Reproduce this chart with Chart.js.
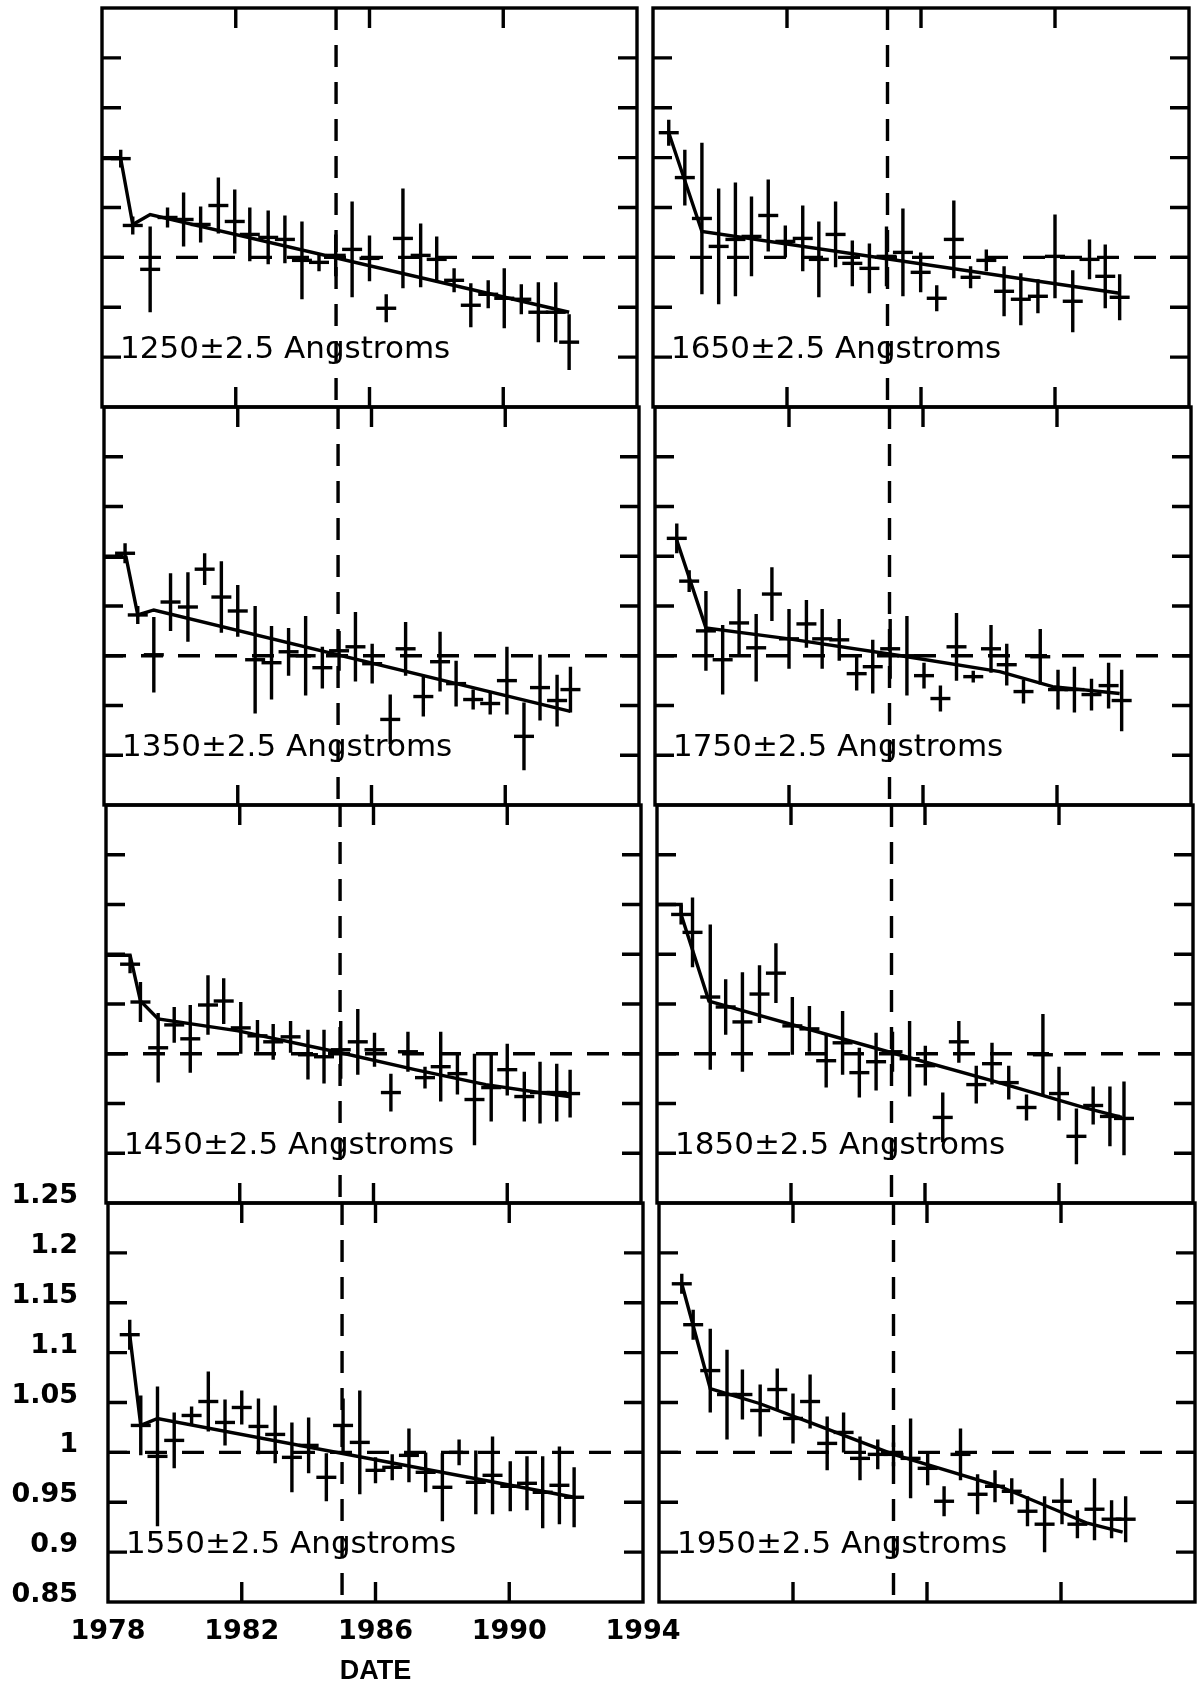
<!DOCTYPE html>
<html>
<head>
<meta charset="utf-8">
<title>Normalized response vs date</title>
<script src="https://cdn.jsdelivr.net/npm/chart.js@4.4.1/dist/chart.umd.min.js"></script>
<style>
  html, body { margin: 0; padding: 0; background: #fff; }
  #fig { position: relative; width: 1199px; height: 1689px; overflow: hidden; background: #fff; }
  #fig canvas { position: absolute; }
</style>
</head>
<body>
<div id="fig"></div>
<script>
// ---- axis ticks and reference lines ----
const xTickYears  = [1978, 1982, 1986, 1990, 1994];
const xTickLabels = ['1978', '1982', '1986', '1990', '1994'];
const yTickValues = [1.25, 1.2, 1.15, 1.1, 1.05, 1, 0.95, 0.9, 0.85];
const yTickLabels = ['1.25', '1.2', '1.15', '1.1', '1.05', '1', '0.95', '0.9', '0.85'];
const refYear  = 1985;
const refRatio = 1.0;
const bandLabels = ['1250±2.5 Angstroms', '1350±2.5 Angstroms', '1450±2.5 Angstroms', '1550±2.5 Angstroms',
                    '1650±2.5 Angstroms', '1750±2.5 Angstroms', '1850±2.5 Angstroms', '1950±2.5 Angstroms'];

// ---- 1250 A ----
const years1250 = [1978.56,1978.92,1979.44,1979.96,1980.44,1980.95,1981.48,1981.97,1982.42,1982.97,1983.47,1983.98,1984.49,1984.99,1985.48,1986.00,1986.50,1987.00,1987.53,1988.01,1988.53,1989.03,1989.55,1990.03,1990.54,1991.05,1991.57,1991.97];
const ratio1250 = [1.099,1.032,0.988,1.040,1.038,1.033,1.052,1.036,1.023,1.020,1.018,0.997,0.995,1.002,1.008,0.999,0.949,1.019,1.002,0.998,0.977,0.952,0.963,0.959,0.958,0.945,0.945,0.915];
const err1250   = [0.009,0.009,0.043,0.010,0.027,0.018,0.028,0.032,0.027,0.027,0.024,0.039,0.009,0.021,0.048,0.023,0.014,0.050,0.032,0.023,0.012,0.022,0.014,0.030,0.015,0.030,0.030,0.028];
const fitYears1250 = [1978.0,1978.56,1978.92,1979.44,1991.97];
const fit1250      = [1.099,1.099,1.033,1.043,0.945];

// ---- 1350 A ----
const years1350 = [1978.63,1979.01,1979.49,1979.99,1980.51,1981.01,1981.51,1982.00,1982.52,1983.01,1983.52,1984.03,1984.53,1985.03,1985.52,1986.02,1986.56,1987.02,1987.55,1988.05,1988.53,1989.04,1989.55,1990.05,1990.56,1991.04,1991.55,1991.95];
const ratio1350 = [1.103,1.041,1.001,1.054,1.049,1.087,1.059,1.045,0.996,0.993,1.004,1.000,0.988,1.005,1.009,0.992,0.936,1.007,0.959,0.994,0.972,0.956,0.952,0.975,0.919,0.968,0.955,0.966];
const err1350   = [0.010,0.009,0.038,0.029,0.035,0.016,0.036,0.026,0.054,0.037,0.024,0.040,0.021,0.020,0.035,0.020,0.025,0.027,0.020,0.030,0.023,0.010,0.011,0.034,0.034,0.033,0.026,0.023];
const fitYears1350 = [1978.0,1978.66,1979.01,1979.49,1991.95];
const fit1350      = [1.099,1.099,1.041,1.046,0.944];

// ---- 1450 A ----
const years1450 = [1978.72,1979.03,1979.56,1980.04,1980.52,1981.05,1981.52,1982.03,1982.53,1983.00,1983.52,1984.04,1984.52,1985.02,1985.53,1986.03,1986.52,1987.03,1987.54,1988.01,1988.51,1989.02,1989.52,1990.00,1990.51,1990.98,1991.48,1991.88];
const ratio1450 = [1.090,1.052,1.006,1.029,1.015,1.049,1.053,1.026,1.018,1.012,1.017,0.999,0.997,1.004,1.012,1.004,0.961,1.002,0.976,0.987,0.980,0.954,0.966,0.984,0.957,0.961,0.961,0.960];
const err1450   = [0.009,0.020,0.035,0.018,0.034,0.030,0.023,0.026,0.016,0.018,0.016,0.025,0.027,0.029,0.033,0.017,0.019,0.020,0.011,0.035,0.021,0.046,0.034,0.026,0.025,0.031,0.029,0.024];
const fitYears1450 = [1978.0,1978.72,1979.03,1979.56,1981.95,1985.02,1987.24,1989.36,1990.95,1991.85];
const fit1450      = [1.099,1.099,1.053,1.035,1.023,1.001,0.984,0.969,0.961,0.957];

// ---- 1550 A ----
const years1550 = [1978.65,1978.98,1979.48,1979.98,1980.50,1981.00,1981.50,1982.00,1982.50,1983.00,1983.50,1984.00,1984.53,1985.03,1985.53,1986.00,1986.50,1987.00,1987.50,1988.00,1988.50,1989.00,1989.50,1990.03,1990.53,1991.00,1991.50,1991.94];
const ratio1550 = [1.118,1.027,0.996,1.012,1.037,1.051,1.030,1.045,1.026,1.018,0.995,1.007,0.975,1.027,1.010,0.982,0.985,0.997,0.980,0.965,1.000,0.970,0.977,0.966,0.969,0.960,0.967,0.955];
const err1550   = [0.015,0.030,0.070,0.028,0.009,0.030,0.023,0.017,0.028,0.029,0.035,0.028,0.024,0.027,0.052,0.013,0.013,0.027,0.020,0.034,0.013,0.032,0.039,0.025,0.027,0.036,0.039,0.030];
const fitYears1550 = [1978.65,1978.98,1979.48,1991.94];
const fit1550      = [1.118,1.027,1.034,0.955];

// ---- 1650 A ----
const years1650 = [1978.47,1978.95,1979.46,1979.96,1980.46,1980.94,1981.44,1981.95,1982.47,1982.95,1983.45,1983.95,1984.46,1984.97,1985.46,1985.99,1986.47,1986.98,1987.48,1987.95,1988.48,1988.98,1989.49,1990.00,1990.53,1991.03,1991.50,1991.93];
const ratio1650 = [1.125,1.080,1.039,1.011,1.018,1.021,1.042,1.016,1.019,0.998,1.023,0.994,0.989,1.001,1.005,0.985,0.959,1.018,0.980,0.997,0.966,0.958,0.961,1.001,0.956,0.998,0.981,0.960];
const err1650   = [0.013,0.028,0.076,0.058,0.057,0.040,0.036,0.016,0.033,0.038,0.033,0.023,0.025,0.030,0.044,0.020,0.013,0.039,0.011,0.011,0.025,0.026,0.017,0.042,0.031,0.020,0.032,0.023];
const fitYears1650 = [1978.47,1979.46,1991.93];
const fit1650      = [1.125,1.026,0.964];

// ---- 1750 A ----
const years1750 = [1978.65,1979.02,1979.52,1980.02,1980.51,1981.02,1981.49,1982.00,1982.52,1982.99,1983.50,1984.02,1984.50,1985.02,1985.52,1986.03,1986.52,1987.00,1987.50,1988.03,1988.50,1989.00,1989.50,1990.03,1990.52,1991.03,1991.54,1991.93];
const ratio1750 = [1.118,1.075,1.025,0.996,1.033,1.008,1.062,1.017,1.032,1.017,1.016,0.982,0.989,1.007,1.000,0.980,0.957,1.009,0.979,1.007,0.991,0.964,0.999,0.966,0.966,0.961,0.970,0.955];
const err1750   = [0.015,0.011,0.040,0.035,0.034,0.034,0.027,0.030,0.024,0.030,0.021,0.017,0.027,0.030,0.040,0.013,0.013,0.034,0.006,0.024,0.021,0.012,0.028,0.020,0.023,0.016,0.023,0.031];
const fitYears1750 = [1978.65,1979.52,1982.0,1985.34,1988.29,1989.87,1991.87];
const fit1750      = [1.116,1.028,1.017,1.000,0.984,0.969,0.962];

// ---- 1850 A ----
const years1850 = [1978.72,1979.06,1979.59,1980.05,1980.55,1981.06,1981.55,1982.04,1982.55,1983.05,1983.54,1984.04,1984.54,1985.03,1985.54,1986.01,1986.53,1987.01,1987.53,1988.00,1988.50,1989.03,1989.52,1990.00,1990.52,1991.02,1991.52,1991.94];
const ratio1850 = [1.140,1.122,1.057,1.047,1.032,1.060,1.081,1.028,1.025,0.993,1.011,0.981,0.992,1.002,0.995,0.988,0.936,1.012,0.969,0.990,0.971,0.946,0.999,0.960,0.917,0.948,0.937,0.935];
const err1850   = [0.010,0.035,0.073,0.028,0.050,0.029,0.030,0.029,0.023,0.027,0.032,0.025,0.029,0.020,0.038,0.020,0.025,0.021,0.019,0.021,0.017,0.013,0.041,0.027,0.028,0.019,0.030,0.037];
const fitYears1850 = [1978.0,1978.72,1978.72,1979.55,1985.01,1988.21,1990.73,1991.88];
const fit1850      = [1.150,1.150,1.140,1.053,1.001,0.971,0.946,0.936];

// ---- 1950 A ----
const years1950 = [1978.68,1979.02,1979.53,1980.03,1980.49,1981.02,1981.53,1982.00,1982.51,1983.02,1983.51,1984.00,1984.53,1985.00,1985.51,1986.02,1986.51,1987.00,1987.51,1988.03,1988.53,1989.00,1989.51,1990.03,1990.49,1991.00,1991.51,1991.93];
const ratio1950 = [1.169,1.128,1.082,1.058,1.058,1.042,1.063,1.034,1.051,1.009,1.020,0.994,0.998,0.998,0.994,0.984,0.951,0.998,0.958,0.966,0.961,0.941,0.928,0.951,0.928,0.943,0.933,0.933];
const err1950   = [0.010,0.015,0.042,0.045,0.025,0.026,0.021,0.025,0.027,0.027,0.020,0.022,0.015,0.012,0.040,0.017,0.015,0.026,0.020,0.016,0.013,0.015,0.028,0.023,0.014,0.031,0.019,0.023];
const fitYears1950 = [1978.68,1979.53,1981.0,1982.58,1985.0,1988.16,1990.79,1991.84];
const fit1950      = [1.169,1.064,1.049,1.029,0.998,0.966,0.929,0.920];

// Panels in column order: left column 1250..1550, right column 1650..1950
const panels = [
  { years: years1250, values: ratio1250, errors: err1250, fitYears: fitYears1250, fitValues: fit1250 },
  { years: years1350, values: ratio1350, errors: err1350, fitYears: fitYears1350, fitValues: fit1350 },
  { years: years1450, values: ratio1450, errors: err1450, fitYears: fitYears1450, fitValues: fit1450 },
  { years: years1550, values: ratio1550, errors: err1550, fitYears: fitYears1550, fitValues: fit1550 },
  { years: years1650, values: ratio1650, errors: err1650, fitYears: fitYears1650, fitValues: fit1650 },
  { years: years1750, values: ratio1750, errors: err1750, fitYears: fitYears1750, fitValues: fit1750 },
  { years: years1850, values: ratio1850, errors: err1850, fitYears: fitYears1850, fitValues: fit1850 },
  { years: years1950, values: ratio1950, errors: err1950, fitYears: fitYears1950, fitValues: fit1950 }
];

// ---- page layout (pixels) ----
const colLeft   = [108, 659];
const colRight  = [643, 1195];
const rowTop    = [8, 407, 805, 1203];
const rowBottom = [407, 805, 1203, 1602];
const rowShift  = [-6, -4, -2, 0];
const MARGIN = 6;
const LW = 3.4;

// axis box sizes for the labelled (bottom-left) panel
const Y_AXIS_W = 100, X_AXIS_H = 86, AX_PAD = { left: 8, top: 60, right: 60, bottom: 0 };

const tickFont = { family: 'DejaVu Sans', size: 27, weight: 'bold' };

// Frame, inward ticks, error bars, dashed reference lines and band label
function panelDecor(p, label) {
  return {
    id: 'panelDecor',
    afterDatasetsDraw(chart) {
      const { ctx, chartArea: a, scales: { x, y } } = chart;
      ctx.save();
      ctx.strokeStyle = '#000';
      ctx.lineWidth = LW;
      ctx.lineCap = 'butt';

      // vertical error bars
      ctx.beginPath();
      p.years.forEach((yr, i) => {
        const px = x.getPixelForValue(yr);
        ctx.moveTo(px, y.getPixelForValue(p.values[i] + p.errors[i]));
        ctx.lineTo(px, y.getPixelForValue(p.values[i] - p.errors[i]));
      });
      ctx.stroke();

      // frame
      ctx.strokeRect(a.left, a.top, a.right - a.left, a.bottom - a.top);

      // inward tick marks
      ctx.beginPath();
      yTickValues.slice(1, -1).forEach(v => {
        const py = y.getPixelForValue(v);
        ctx.moveTo(a.left, py);  ctx.lineTo(a.left + 19, py);
        ctx.moveTo(a.right, py); ctx.lineTo(a.right - 19, py);
      });
      xTickYears.slice(1, -1).forEach(v => {
        const px = x.getPixelForValue(v);
        ctx.moveTo(px, a.top);    ctx.lineTo(px, a.top + 20);
        ctx.moveTo(px, a.bottom); ctx.lineTo(px, a.bottom - 20);
      });
      ctx.stroke();

      // dashed reference lines
      ctx.setLineDash([22, 15]);
      ctx.beginPath();
      const rx = x.getPixelForValue(refYear);
      ctx.moveTo(rx, a.top); ctx.lineTo(rx, a.bottom);
      const ry = y.getPixelForValue(refRatio);
      ctx.moveTo(a.left, ry); ctx.lineTo(a.right, ry);
      ctx.stroke();
      ctx.setLineDash([]);

      // band label, sitting on the 0.9 tick
      ctx.fillStyle = '#000';
      ctx.font = '31px "DejaVu Sans"';
      ctx.textAlign = 'left';
      ctx.textBaseline = 'alphabetic';
      ctx.fillText(label, a.left + 18, y.getPixelForValue(0.9) + 1);
      ctx.restore();
    }
  };
}

const fig = document.getElementById('fig');

panels.forEach((p, k) => {
  const col = Math.floor(k / 4), row = k % 4;
  const withAxes = (col === 0 && row === 3);
  const w = colRight[col] - colLeft[col];
  const h = rowBottom[row] - rowTop[row];
  const x0 = colLeft[col] + rowShift[row];

  const pad = withAxes ? AX_PAD : { left: MARGIN, top: MARGIN, right: MARGIN, bottom: MARGIN };
  const cl = withAxes ? x0 - (AX_PAD.left + Y_AXIS_W) : x0 - MARGIN;
  const ct = rowTop[row] - pad.top;
  const cw = withAxes ? AX_PAD.left + Y_AXIS_W + w + AX_PAD.right : w + 2 * MARGIN;
  const ch = withAxes ? AX_PAD.top + h + X_AXIS_H : h + 2 * MARGIN;

  const canvas = document.createElement('canvas');
  canvas.width = cw; canvas.height = ch;
  canvas.style.left = cl + 'px'; canvas.style.top = ct + 'px';
  canvas.style.width = cw + 'px'; canvas.style.height = ch + 'px';
  fig.appendChild(canvas);

  const xScale = {
    type: 'linear', min: 1978, max: 1994, display: withAxes,
    afterBuildTicks: s => { s.ticks = xTickYears.map(v => ({ value: v })); },
    grid: { display: false, drawTicks: false },
    border: { display: false },
    ticks: {
      padding: 14, maxRotation: 0, autoSkip: false, color: '#000', font: tickFont,
      callback: v => xTickLabels[xTickYears.indexOf(v)]
    },
    title: {
      display: true, text: 'DATE', color: '#000', padding: 0,
      font: { family: 'Liberation Sans', size: 27, weight: 'bold' }
    }
  };
  const yScale = {
    type: 'linear', min: 0.85, max: 1.25, display: withAxes,
    afterBuildTicks: s => { s.ticks = yTickValues.map(v => ({ value: v })); },
    grid: { display: false, drawTicks: false },
    border: { display: false },
    ticks: {
      padding: 30, labelOffset: -7, autoSkip: false, color: '#000', font: tickFont,
      callback: v => yTickLabels[yTickValues.indexOf(v)]
    }
  };
  if (withAxes) {
    xScale.afterFit = s => { s.height = X_AXIS_H; };
    yScale.afterFit = s => { s.width = Y_AXIS_W; };
  }

  new Chart(canvas, {
    type: 'scatter',
    data: {
      datasets: [
        {
          type: 'line',
          data: p.fitYears.map((yr, i) => ({ x: yr, y: p.fitValues[i] })),
          borderColor: '#000',
          borderWidth: LW,
          pointRadius: 0,
          tension: 0,
          fill: false
        },
        {
          type: 'scatter',
          data: p.years.map((yr, i) => ({ x: yr, y: p.values[i] })),
          pointStyle: 'line',
          pointRadius: 10,
          borderColor: '#000',
          backgroundColor: '#000',
          borderWidth: LW
        }
      ]
    },
    options: {
      responsive: false,
      animation: false,
      devicePixelRatio: 1,
      events: [],
      layout: { padding: pad, autoPadding: false },
      plugins: { legend: { display: false }, tooltip: { enabled: false }, title: { display: false } },
      scales: { x: xScale, y: yScale }
    },
    plugins: [panelDecor(p, bandLabels[k])]
  });
});
</script>
</body>
</html>
